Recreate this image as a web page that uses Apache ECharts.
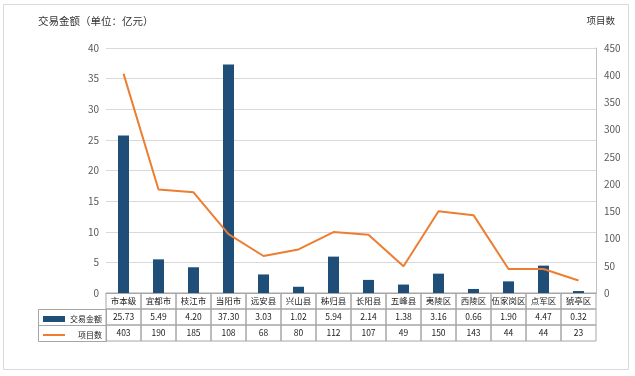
<!DOCTYPE html>
<html>
<head>
<meta charset="utf-8">
<script src="https://cdn.jsdelivr.net/npm/echarts@6/dist/echarts.min.js"></script>
<style>
  html, body { margin: 0; padding: 0; background: #fff; }
  #main { width: 635px; height: 376px; }
</style>
</head>
<body>
<div id="main"></div>
<script>
var categories = ['市本级', '宜都市', '枝江市', '当阳市', '远安县', '兴山县', '秭归县', '长阳县', '五峰县', '夷陵区', '西陵区', '伍家岗区', '点军区', '猇亭区'];
var amounts = [25.73, 5.49, 4.20, 37.30, 3.03, 1.02, 5.94, 2.14, 1.38, 3.16, 0.66, 1.90, 4.47, 0.32];
var counts = [403, 190, 185, 108, 68, 80, 112, 107, 49, 150, 143, 44, 44, 23];

var font = '"Noto Sans CJK SC", sans-serif';
var cellBorder = '#a6a6a6';

// 表格单元格样式
var cell = function () {
	return {
		width: 35,
		height: 16,
		lineHeight: 16,
		align: 'center',
		fontSize: 8.5,
		color: '#222',
		fontFamily: font,
		borderColor: cellBorder,
		borderWidth: 1
	};
};

var chart = echarts.init(document.getElementById('main'));
chart.setOption({
	animation: false,
	textStyle: { fontFamily: font },
	title: [
		{
			text: '交易金额（单位：亿元）',
			left: 33, top: 11,
			textStyle: { fontSize: 10.5, fontWeight: 'normal', color: '#333', fontFamily: font }
		},
		{
			text: '项目数',
			right: 15, top: 11,
			textStyle: { fontSize: 9.5, fontWeight: 'normal', color: '#333', fontFamily: font }
		}
	],
	legend: [
		{
			data: [{ name: '交易金额', icon: 'rect' }],
			left: 38, top: 310,
			itemWidth: 22, itemHeight: 6, itemGap: 4,
			textStyle: { fontSize: 8, color: '#222', fontFamily: font },
			selectedMode: false
		},
		{
			data: [{ name: '项目数', icon: 'rect' }],
			left: 38, top: 326,
			itemWidth: 22, itemHeight: 2, itemGap: 4,
			textStyle: { fontSize: 8, color: '#222', fontFamily: font, padding: [0, 0, 0, 8] },
			selectedMode: false
		}
	],
	graphic: [
		{
			type: 'rect',
			shape: { x: 3.5, y: 4.5, width: 625, height: 365 },
			style: { fill: 'none', stroke: '#d9d9d9', lineWidth: 1 },
			silent: true
		},
		{
			type: 'rect',
			shape: { x: 38.5, y: 309.5, width: 68, height: 16 },
			style: { fill: 'none', stroke: cellBorder, lineWidth: 1 },
			silent: true
		},
		{
			type: 'rect',
			shape: { x: 38.5, y: 325.5, width: 68, height: 16 },
			style: { fill: 'none', stroke: cellBorder, lineWidth: 1 },
			silent: true
		}
	],
	grid: { left: 106, right: 39, top: 48, bottom: 83, containLabel: false },
	xAxis: {
		type: 'category',
		data: categories,
		axisLine: { show: true, lineStyle: { color: cellBorder } },
		axisTick: { show: false },
		axisLabel: {
			interval: 0,
			hideOverlap: false,
			margin: 0,
			formatter: function (v, i) {
				return '{c|' + v + '}\n{v|' + amounts[i].toFixed(2) + '}\n{v|' + counts[i] + '}';
			},
			rich: { c: cell(), v: cell() }
		}
	},
	yAxis: [
		{
			type: 'value',
			min: 0, max: 40, interval: 5,
			axisLine: { show: false },
			axisTick: { show: false },
			axisLabel: { fontSize: 10, color: '#595959', margin: 7 },
			splitLine: { lineStyle: { color: '#d9d9d9' } }
		},
		{
			type: 'value',
			min: 0, max: 450, interval: 50,
			position: 'right',
			axisLine: { show: true, lineStyle: { color: '#bfbfbf' } },
			axisTick: { show: false },
			axisLabel: { fontSize: 10, color: '#595959', margin: 8 },
			splitLine: { show: false }
		}
	],
	series: [
		{
			name: '交易金额',
			type: 'bar',
			barWidth: 11,
			itemStyle: { color: '#1F4E79' },
			data: amounts
		},
		{
			name: '项目数',
			type: 'line',
			yAxisIndex: 1,
			symbol: 'none',
			lineStyle: { color: '#ED7D31', width: 2 },
			itemStyle: { color: '#ED7D31' },
			data: counts
		}
	]
});
</script>
</body>
</html>
